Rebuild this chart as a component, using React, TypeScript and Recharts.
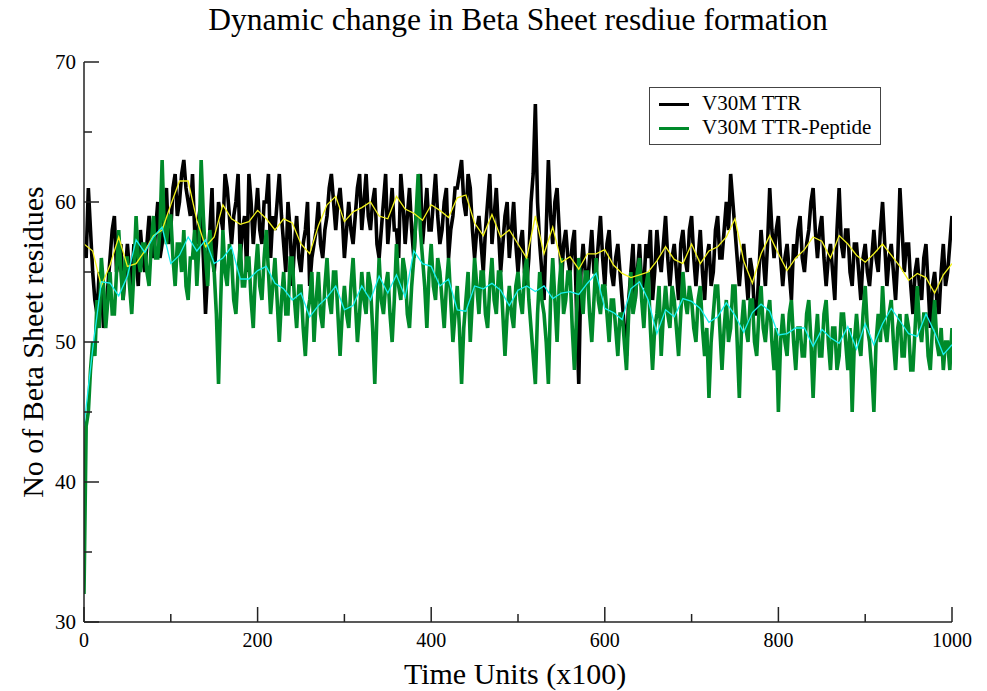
import { LineChart, Line, XAxis, YAxis } from 'recharts';

const SERIF = "'Liberation Serif', 'Times New Roman', serif";

// time axis (units of x100), raw samples every 2.5, running averages every 10
const TIME_RAW = Array.from({ length: 401 }, (_, i) => i * 2.5);
const TIME_AVG = Array.from({ length: 101 }, (_, i) => i * 10);

// V30M TTR, beta sheet residue count (one row = 100 time units)
const ttr = [
  57, 56, 61, 58, 55, 53, 52, 55, 54, 51, 52, 54, 56, 58, 59, 55, 56, 57, 53, 55, 57, 55, 54, 57, 56, 54, 58, 56, 55, 57, 59, 57, 56, 58, 60, 56, 57, 59, 61, 57,
  58, 61, 62, 59, 60, 62, 63, 61, 60, 59, 62, 58, 57, 59, 60, 56, 52, 55, 58, 61, 55, 57, 60, 59, 58, 62, 61, 59, 57, 59, 60, 62, 56, 58, 59, 55, 62, 60, 57, 59,
  61, 58, 57, 60, 60, 62, 56, 59, 58, 60, 62, 59, 57, 55, 60, 58, 54, 57, 59, 56, 55, 57, 58, 60, 54, 56, 57, 58, 60, 57, 56, 58, 59, 61, 62, 60, 58, 60, 61, 59,
  56, 58, 60, 58, 57, 59, 61, 62, 58, 60, 62, 59, 58, 60, 61, 57, 56, 58, 60, 62, 57, 59, 61, 58, 58, 56, 62, 60, 57, 59, 61, 58, 56, 59, 60, 62, 57, 59, 61, 58,
  58, 60, 62, 59, 57, 58, 60, 61, 56, 58, 59, 61, 61, 62, 63, 60, 59, 62, 61, 58, 56, 58, 59, 57, 55, 58, 60, 62, 57, 59, 61, 58, 55, 57, 59, 60, 56, 58, 60, 57,
  55, 57, 58, 55, 54, 56, 60, 62, 67, 60, 57, 55, 53, 58, 63, 59, 57, 60, 61, 58, 54, 57, 58, 56, 55, 57, 58, 52, 47, 55, 57, 55, 54, 56, 58, 55, 55, 57, 59, 56,
  54, 57, 58, 55, 54, 56, 57, 55, 53, 51, 49, 53, 55, 57, 53, 55, 57, 54, 54, 57, 56, 58, 53, 55, 58, 56, 55, 57, 59, 56, 54, 56, 57, 55, 53, 57, 58, 56, 55, 58,
  59, 56, 54, 56, 58, 55, 53, 56, 57, 54, 55, 58, 59, 56, 56, 58, 60, 58, 62, 60, 58, 56, 54, 56, 57, 55, 53, 56, 55, 52, 52, 55, 58, 56, 54, 57, 61, 58, 56, 58,
  59, 56, 54, 56, 57, 55, 53, 57, 56, 58, 59, 56, 55, 57, 58, 60, 61, 58, 56, 58, 59, 56, 54, 56, 57, 55, 53, 58, 61, 57, 56, 58, 58, 55, 54, 57, 57, 55, 53, 56,
  57, 55, 54, 56, 58, 56, 55, 58, 60, 57, 54, 56, 57, 55, 53, 56, 61, 58, 55, 57, 57, 54, 52, 55, 56, 54, 53, 56, 57, 54, 51, 54, 55, 53, 52, 55, 57, 54, 55, 57,
  59,
];

// V30M TTR-Peptide
const ttrPeptide = [
  32, 44, 45, 48, 50, 49, 53, 51, 56, 54, 51, 53, 55, 52, 52, 55, 58, 55, 53, 56, 56, 54, 52, 55, 59, 56, 55, 57, 57, 55, 54, 57, 59, 56, 56, 58, 63, 58, 57, 59,
  59, 56, 54, 57, 57, 55, 58, 54, 53, 56, 56, 58, 54, 57, 63, 59, 56, 54, 58, 56, 55, 52, 47, 53, 58, 55, 54, 57, 56, 53, 52, 55, 57, 54, 54, 56, 56, 53, 51, 55,
  57, 54, 53, 56, 58, 55, 52, 54, 56, 53, 50, 53, 55, 52, 52, 56, 56, 53, 51, 54, 54, 51, 49, 52, 53, 55, 50, 53, 55, 52, 51, 54, 56, 53, 52, 55, 55, 52, 49, 52,
  54, 52, 51, 54, 56, 53, 50, 52, 55, 53, 52, 55, 54, 51, 47, 52, 56, 53, 52, 54, 55, 52, 50, 53, 57, 54, 53, 56, 55, 52, 51, 54, 56, 59, 62, 58, 56, 54, 51, 55,
  57, 54, 53, 56, 55, 53, 51, 54, 56, 53, 50, 52, 54, 51, 47, 51, 53, 55, 50, 53, 56, 54, 52, 55, 55, 52, 51, 54, 56, 53, 52, 55, 55, 52, 49, 52, 54, 52, 51, 54,
  55, 53, 52, 55, 56, 53, 51, 49, 47, 52, 55, 53, 52, 50, 47, 53, 56, 53, 50, 54, 56, 52, 53, 55, 55, 51, 48, 52, 56, 54, 52, 55, 55, 52, 50, 53, 56, 53, 52, 54,
  54, 52, 50, 53, 53, 51, 49, 52, 52, 50, 48, 52, 55, 52, 53, 55, 56, 53, 51, 54, 55, 51, 48, 51, 52, 54, 49, 52, 54, 52, 51, 54, 53, 51, 49, 52, 55, 53, 52, 54,
  53, 51, 50, 53, 54, 51, 49, 51, 46, 50, 52, 54, 54, 51, 48, 51, 53, 50, 51, 54, 54, 50, 46, 51, 53, 51, 50, 53, 53, 50, 49, 52, 54, 51, 50, 52, 53, 50, 48, 51,
  45, 50, 52, 50, 49, 52, 53, 50, 48, 51, 51, 49, 49, 52, 53, 50, 46, 50, 52, 49, 49, 52, 53, 50, 48, 51, 51, 48, 49, 52, 52, 50, 48, 51, 45, 50, 52, 50, 49, 52,
  54, 51, 50, 48, 45, 50, 52, 50, 54, 51, 50, 52, 53, 50, 48, 51, 52, 49, 49, 52, 51, 48, 48, 51, 54, 51, 50, 52, 52, 49, 48, 51, 53, 50, 49, 51, 48, 50, 50, 48,
  51,
];

// running averages (yellow / cyan)
const ttrAvg = [
  57, 56.5, 54, 55.5, 57.5, 55.4, 55.6, 56.5, 57.6, 58,
  59.8, 61.5, 61.5, 58.7, 56.8, 57.5, 59.8, 58.8, 58.4, 58.6,
  59.4, 58.8, 58, 58.8, 58.5, 57, 56.3, 58.3, 59.8, 60.4,
  58.6, 59.3, 59.6, 60, 59, 58.8, 60.4, 59.5, 59.2, 58.7,
  59.8, 59.4, 58.9, 60.3, 60.5, 58.5, 57.6, 59.1, 57.5, 58,
  57, 56, 59, 56.3, 58.2, 55.7, 56.1, 55.2, 56.3, 56.3,
  56.6, 55.5, 54.9, 54.6, 54.8, 55, 55.8, 56.8, 55.9, 55.6,
  57, 55.6, 56.5, 56.8, 57.5, 58.8, 55.8, 54.2, 56.3, 57.6,
  56.3, 55.1, 56, 56.6, 57.5, 57.2, 56, 57.6, 57, 56.2,
  55.7, 56.3, 57, 56.2, 55.4, 54.4, 54.9, 54.6, 53.5, 54.8,
  55.6,
];

const ttrPeptideAvg = [
  44, 49.5, 54.3, 54.2, 53.3, 54.7, 57.3, 56.4, 57.5, 58.2,
  55.6, 56.2, 57.5, 56.5, 57.3, 55.6, 56, 56.8, 54.5, 54.5,
  55.1, 55.4, 54.2, 53.8, 53, 53.5, 51.8, 52.6, 53.2, 54,
  52.3, 52.6, 54, 53, 54.7, 53.5, 54.8, 53.2, 56.5, 55.6,
  55.4, 54, 54.5, 52.3, 52.2, 54, 53.8, 54.2, 53.7, 52.6,
  53.7, 54, 53.6, 54, 53.1, 53.5, 53.6, 53.4, 54.2, 54.9,
  52.4, 52.1, 51.6, 53.8, 54.3, 53, 50.6, 52.3, 51.8, 53.1,
  52.9, 52.4, 51.4, 51.8, 52.8, 51.9, 50.7, 52.1, 52.7, 52.2,
  50.5, 50.6, 51, 51, 49.7, 50.9, 50.3, 49.9, 51.1, 49.5,
  51.3, 49.8, 51.3, 52.4, 51.5, 50.6, 50.4, 52, 50.7, 49.1,
  49.8,
];

const X_TICKS = [0, 100, 200, 300, 400, 500, 600, 700, 800, 900, 1000];
const X_LABELS = [0, 200, 400, 600, 800, 1000];
const Y_TICKS = [30, 35, 40, 45, 50, 55, 60, 65, 70];
const Y_LABELS = [30, 40, 50, 60, 70];

const rawData = TIME_RAW.map((t, i) => ({ t, ttr: ttr[i], pep: ttrPeptide[i] }));
const avgData = TIME_AVG.map((t, i) => ({ t, ttrAvg: ttrAvg[i], pepAvg: ttrPeptideAvg[i] }));

const FRAME = '#222';

const bottomTick = ({ x, y, payload }: any) => {
  const major = X_LABELS.includes(payload.value);
  return (
    <g>
      <line x1={x} x2={x} y1={y} y2={y - (major ? 15 : 8)} stroke={FRAME} strokeWidth={1.5} />
      {major && (
        <text x={x} y={y + 18} textAnchor="middle" dominantBaseline="central" fontSize={20} fontFamily={SERIF} fill="#000">
          {payload.value}
        </text>
      )}
    </g>
  );
};

const topTick = ({ x, y, payload }: any) => {
  const major = X_LABELS.includes(payload.value);
  return <line x1={x} x2={x} y1={y} y2={y + (major ? 15 : 8)} stroke={FRAME} strokeWidth={1.5} />;
};

const leftTick = ({ x, y, payload }: any) => {
  const major = Y_LABELS.includes(payload.value);
  return (
    <g>
      <line x1={x} x2={x + (major ? 15 : 8)} y1={y} y2={y} stroke={FRAME} strokeWidth={1.5} />
      {major && (
        <text x={x - 8} y={y} textAnchor="end" dominantBaseline="central" fontSize={21} fontFamily={SERIF} fill="#000">
          {payload.value}
        </text>
      )}
    </g>
  );
};

const rightTick = ({ x, y, payload }: any) => {
  const major = Y_LABELS.includes(payload.value);
  return <line x1={x} x2={x - (major ? 15 : 8)} y1={y} y2={y} stroke={FRAME} strokeWidth={1.5} />;
};

const axisLine = { stroke: FRAME, strokeWidth: 1.5 };

export default function App() {
  return (
    <div style={{ position: 'absolute', left: 0, top: 0, width: 987, height: 691, background: '#fff', fontFamily: SERIF }}>
      <LineChart width={987} height={691} margin={{ top: 62, right: 35, bottom: 0, left: 0 }}>
        <XAxis xAxisId="b" dataKey="t" type="number" domain={[0, 1000]} ticks={X_TICKS} interval={0}
          height={69} tickSize={0} tickMargin={0} tickLine={false} axisLine={axisLine} tick={bottomTick} allowDataOverflow />
        <XAxis xAxisId="t" orientation="top" dataKey="t" type="number" domain={[0, 1000]} ticks={X_TICKS} interval={0}
          height={0} tickSize={0} tickMargin={0} tickLine={false} axisLine={axisLine} tick={topTick} allowDataOverflow />
        <YAxis yAxisId="l" type="number" domain={[30, 70]} ticks={Y_TICKS} interval={0}
          width={84} tickSize={0} tickMargin={0} tickLine={false} axisLine={axisLine} tick={leftTick} allowDataOverflow />
        <YAxis yAxisId="r" orientation="right" type="number" domain={[30, 70]} ticks={Y_TICKS} interval={0}
          width={0} tickSize={0} tickMargin={0} tickLine={false} axisLine={axisLine} tick={rightTick} allowDataOverflow />
        <Line xAxisId="b" yAxisId="l" data={rawData} dataKey="ttr" stroke="#000" strokeWidth={3.6}
          dot={false} isAnimationActive={false} strokeLinejoin="miter" />
        <Line xAxisId="b" yAxisId="l" data={rawData} dataKey="pep" stroke="#008a2a" strokeWidth={3.6}
          dot={false} isAnimationActive={false} strokeLinejoin="miter" />
        <Line xAxisId="b" yAxisId="l" data={avgData} dataKey="ttrAvg" stroke="#f2f21a" strokeWidth={1.3}
          dot={false} isAnimationActive={false} />
        <Line xAxisId="b" yAxisId="l" data={avgData} dataKey="pepAvg" stroke="#19f0f0" strokeWidth={1.3}
          dot={false} isAnimationActive={false} />
      </LineChart>

      <div style={{ position: 'absolute', left: 518, top: 2, transform: 'translateX(-50%)', whiteSpace: 'nowrap', fontSize: 31.5 }}>
        Dynamic change in Beta Sheet resdiue formation
      </div>
      <div style={{ position: 'absolute', left: 515, top: 657, transform: 'translateX(-50%)', whiteSpace: 'nowrap', fontSize: 30 }}>
        Time Units (x100)
      </div>
      <div style={{ position: 'absolute', left: 33, top: 342, transform: 'translate(-50%, -50%) rotate(-90deg)', whiteSpace: 'nowrap', fontSize: 30 }}>
        No of Beta Sheet residues
      </div>

      <div style={{ position: 'absolute', left: 649, top: 87, width: 230, height: 56, border: '1px solid #444', background: '#fff', fontSize: 21 }}>
        <div style={{ position: 'absolute', left: 9, top: 16, width: 30, height: 3, marginTop: -1.5, background: '#000' }} />
        <div style={{ position: 'absolute', left: 52, top: 16, transform: 'translateY(-52%)', whiteSpace: 'nowrap' }}>V30M TTR</div>
        <div style={{ position: 'absolute', left: 9, top: 40, width: 30, height: 3, marginTop: -1.5, background: '#008a2a' }} />
        <div style={{ position: 'absolute', left: 52, top: 40, transform: 'translateY(-52%)', whiteSpace: 'nowrap' }}>V30M TTR-Peptide</div>
      </div>
    </div>
  );
}
